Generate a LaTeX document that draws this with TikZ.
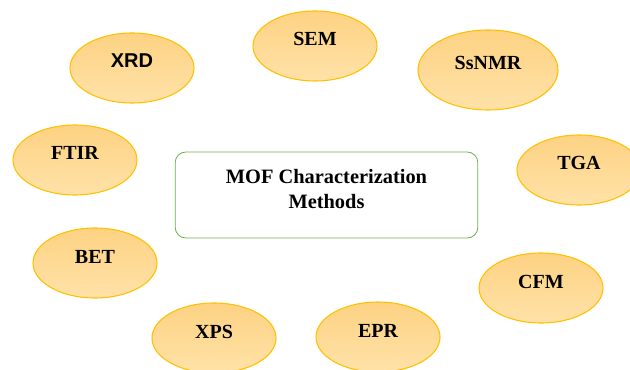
\documentclass[tikz,border=0pt]{standalone}
\usepackage{fontspec}
\setmainfont{Liberation Serif}
\newfontfamily\xrdfont{Liberation Sans}
\usepackage{xcolor}
\usetikzlibrary{shapes.geometric}
\definecolor{methedge}{HTML}{FFC000}
\definecolor{methtop}{HTML}{FDD283}
\definecolor{methbot}{HTML}{FFE2A8}
\definecolor{mofgreen}{HTML}{70AD47}

\begin{document}
\begin{tikzpicture}[x=0.75pt,y=-0.75pt,
  method/.style={ellipse,draw=methedge,line width=0.8pt,top color=methtop,bottom color=methbot,
    minimum width=93pt,minimum height=52.5pt,inner sep=0pt,text height=8pt,text depth=8pt,
    font=\bfseries\fontsize{15}{18}\selectfont},
  mofbox/.style={draw=mofgreen,line width=0.6pt,rounded corners=8pt,minimum width=227pt,
    minimum height=64.5pt,align=center,text height=29.5pt,text depth=10pt,
    font=\bfseries\fontsize{15.3}{18.75}\selectfont}]
\useasboundingbox (0,0) rectangle (630,370);
%%
\node[mofbox] (mof) at (326.5,195) {MOF Characterization\\Methods};
%%
\node[method] (xrd) at (132,68) {\xrdfont XRD};
\node[method] (sem) at (315,46) {SEM};
\node[method,minimum width=105pt,minimum height=60pt] (ssnmr) at (488,70) {SsNMR};
\node[method] (ftir) at (75,160) {FTIR};
\node[method] (tga) at (579,170) {TGA};
%%
\node[method] (bet) at (95,263) {BET};
\node[method] (cfm) at (541,288) {CFM};
\node[method] (xps) at (214,338) {XPS};
\node[method] (epr) at (378,337) {EPR};
\end{tikzpicture}
\end{document}
